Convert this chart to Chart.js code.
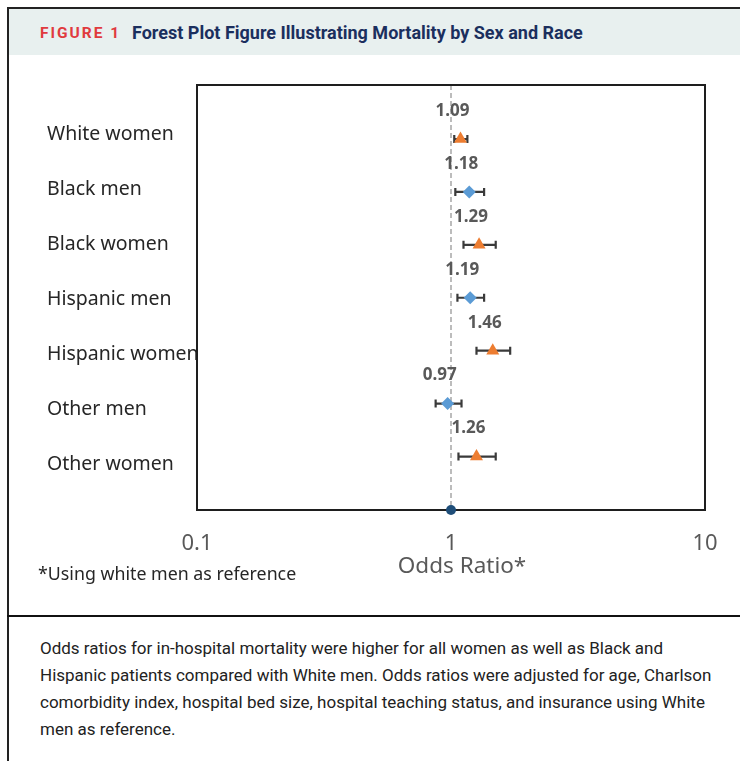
<!DOCTYPE html>
<html>
<head>
<meta charset="utf-8">
<script src="https://cdn.jsdelivr.net/npm/chart.js@4.4.1/dist/chart.umd.min.js"></script>
<style>
  html, body { margin: 0; padding: 0; background: #fff; width: 740px; height: 761px; overflow: hidden; }
  #frame { position: absolute; left: 7px; top: 7px; width: 740px; height: 760px;
           border-top: 2px solid #222; border-left: 2px solid #222; }
  #header { position: absolute; left: 9px; top: 9px; width: 731px; height: 46px; background: #e8f0ef; }
  #header .fig { position: absolute; left: 31px; top: 14px; font: bold 15.5px Roboto, sans-serif;
                 color: #e03a3e; letter-spacing: 2px; line-height: 20px; }
  #header .ttl { position: absolute; left: 123px; top: 12px; font: bold 18px Roboto, sans-serif; color: #1b2f5e; line-height: 24px; }
  #chartbox { position: absolute; left: 8px; top: 56px; width: 732px; height: 559px; }
  #sep { position: absolute; left: 7px; top: 615px; width: 740px; height: 0; border-top: 2.5px solid #111; }
  #foot { position: absolute; left: 38px; top: 561px; font: 17.8px "Noto Sans", sans-serif; color: #262626; white-space: nowrap; }
  #caption { position: absolute; left: 40px; top: 635px; font: 17px Roboto, sans-serif; color: #222;
             line-height: 27px; white-space: nowrap; }
</style>
</head>
<body>
<div id="frame"></div>
<div id="header"><span class="fig">FIGURE 1</span><span class="ttl">Forest Plot Figure Illustrating Mortality by Sex and Race</span></div>
<div id="chartbox"><canvas id="c" width="732" height="559"></canvas></div>
<div id="foot">*Using white men as reference</div>
<div id="sep"></div>
<div id="caption">Odds ratios for in-hospital mortality were higher for all women as well as Black and<br>Hispanic patients compared with White men. Odds ratios were adjusted for age, Charlson<br>comorbidity index, hospital bed size, hospital teaching status, and insurance using White<br>men as reference.</div>
<script>
// ---- data ----
const categories = ["White women", "Black men", "Black women", "Hispanic men", "Hispanic women", "Other men", "Other women"];
const sex        = ["women", "men", "women", "men", "women", "men", "women"];
const oddsRatio  = [1.09, 1.18, 1.29, 1.19, 1.46, 0.97, 1.26];
const ciLower    = [1.03, 1.04, 1.12, 1.06, 1.26, 0.87, 1.07];
const ciUpper    = [1.16, 1.35, 1.50, 1.35, 1.71, 1.10, 1.50];
const xTicks      = [0.1, 1, 10];
const xTickLabels = ["0.1", "1", "10"];
const xAxisTitle  = "Odds Ratio*";
const referenceOR = [1];

// ---- build ----
const rowPos = categories.map((c, i) => i + 1);
function pts(s) {
  return categories.map((c, i) => ({ x: oddsRatio[i], y: rowPos[i], s: sex[i] })).filter(p => p.s === s);
}
const Y_MIN = -0.02, Y_MAX = 8.01;

const forestPlugin = {
  id: 'forest',
  beforeDatasetsDraw(chart) {
    const { ctx, chartArea: a, scales: { x, y } } = chart;
    ctx.save();
    // reference dashed line at OR = 1
    const x1 = x.getPixelForValue(referenceOR[0]);
    ctx.strokeStyle = '#a6a6a6';
    ctx.lineWidth = 1.5;
    ctx.setLineDash([5, 3]);
    ctx.beginPath(); ctx.moveTo(x1, a.top); ctx.lineTo(x1, a.bottom); ctx.stroke();
    ctx.setLineDash([]);
    // plot box
    ctx.strokeStyle = '#1e1e1e';
    ctx.lineWidth = 2;
    ctx.strokeRect(a.left, a.top, a.right - a.left, a.bottom - a.top);
    // error bars
    ctx.strokeStyle = '#3a3a3a';
    ctx.lineWidth = 2.2;
    categories.forEach((c, i) => {
      const yp = y.getPixelForValue(rowPos[i]);
      const xl = x.getPixelForValue(ciLower[i]);
      const xu = x.getPixelForValue(ciUpper[i]);
      ctx.beginPath();
      ctx.moveTo(xl, yp); ctx.lineTo(xu, yp);
      ctx.moveTo(xl, yp - 4); ctx.lineTo(xl, yp + 4);
      ctx.moveTo(xu, yp - 4); ctx.lineTo(xu, yp + 4);
      ctx.stroke();
    });
    ctx.restore();
  },
  afterDatasetsDraw(chart) {
    const { ctx, chartArea: a, scales: { x, y } } = chart;
    ctx.save();
    ctx.font = 'bold 17px "Noto Sans", sans-serif';
    ctx.fillStyle = '#595959';
    ctx.textAlign = 'center';
    ctx.textBaseline = 'middle';
    categories.forEach((c, i) => {
      const xp = x.getPixelForValue(oddsRatio[i]);
      const yp = y.getPixelForValue(rowPos[i]);
      ctx.fillText(oddsRatio[i].toFixed(2), xp - 8, yp - 28);
    });
    // x-axis title
    ctx.font = '22.5px "Noto Sans", sans-serif';
    ctx.fillText(xAxisTitle, (a.left + a.right) / 2 + 11, a.bottom + 57);
    ctx.restore();
  }
};

new Chart(document.getElementById('c'), {
  type: 'scatter',
  data: {
    datasets: [
      { label: 'Women', data: pts('women'), yAxisID: 'y', pointStyle: 'triangle', pointRadius: 7.5,
        backgroundColor: '#ed7d31', borderColor: '#ed7d31', borderWidth: 0 },
      { label: 'Men', data: pts('men'), yAxisID: 'y', pointStyle: 'rectRot', pointRadius: 6.5,
        backgroundColor: '#5b9bd5', borderColor: '#5b9bd5', borderWidth: 0 },
      { label: 'Reference', data: referenceOR.map(v => ({ x: v, y: Y_MAX })), yAxisID: 'y', pointStyle: 'circle',
        pointRadius: 5, backgroundColor: '#1f4e79', borderColor: '#1f4e79', borderWidth: 0, clip: false }
    ]
  },
  options: {
    responsive: false,
    animation: false,
    layout: { padding: { left: 39, top: 29, right: 35, bottom: 0 } },
    plugins: { legend: { display: false }, tooltip: { enabled: false } },
    scales: {
      x: {
        type: 'logarithmic', min: 0.1, max: 10, position: 'bottom',
        grid: { display: false, drawTicks: false }, border: { display: false },
        afterBuildTicks: (ax) => { ax.ticks = xTicks.map(v => ({ value: v })); },
        afterFit: (ax) => { ax.height = 105; },
        ticks: { padding: 21, color: '#595959', font: { family: '"Noto Sans", sans-serif', size: 22 },
                 callback: (v, i) => xTickLabels[i] },
        title: { display: false, text: xAxisTitle }
      },
      y: { type: 'linear', display: false, reverse: true, min: Y_MIN, max: Y_MAX },
      yCat: {
        type: 'linear', position: 'left', reverse: true, min: 0.109, max: 7.836,
        grid: { display: false, drawTicks: false }, border: { display: false },
        afterBuildTicks: (ax) => { ax.ticks = rowPos.map(v => ({ value: v })); },
        afterFit: (ax) => { ax.width = 150; },
        ticks: { crossAlign: 'far', padding: 0, color: '#262626',
                 font: { family: '"Noto Sans", sans-serif', size: 19.5 },
                 callback: (v, i) => categories[i] }
      }
    }
  },
  plugins: [forestPlugin]
});
</script>
</body>
</html>
